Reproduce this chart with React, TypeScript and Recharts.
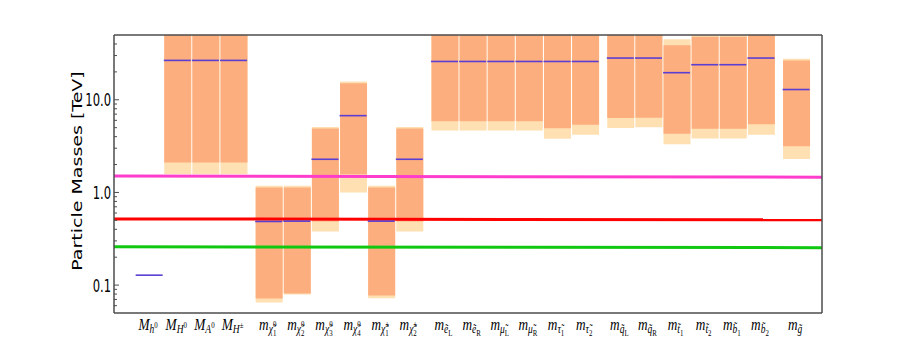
import { Bar, ComposedChart, ReferenceLine, Scatter, XAxis, YAxis } from "recharts"

// particle slots, grouped (Higgs | EW-inos | sleptons | squarks | gluino)
const particles = [
    "h0", "H0", "A0", "Hpm",
    "N1", "N2", "N3", "N4", "C1", "C2",
    "eL", "eR", "muL", "muR", "tau1", "tau2",
    "qL", "qR", "t1", "t2", "b1", "b2",
    "gluino",
]
const groupIndex = [0, 0, 0, 0, 1, 1, 1, 1, 1, 1, 2, 2, 2, 2, 2, 2, 3, 3, 3, 3, 3, 3, 4]

// label pieces: base letter, subscript, sub-index, superscript
const labelBase = ["M", "M", "M", "M", "m", "m", "m", "m", "m", "m", "m", "m", "m", "m", "m", "m", "m", "m", "m", "m", "m", "m", "m"]
const labelSub = ["h", "H", "A", "H", "χ̃", "χ̃", "χ̃", "χ̃", "χ̃", "χ̃", "ẽ", "ẽ", "μ̃", "μ̃", "τ̃", "τ̃", "q̃", "q̃", "t̃", "t̃", "b̃", "b̃", "g̃"]
const labelIdx = ["", "", "", "", "1", "2", "3", "4", "1", "2", "L", "R", "L", "R", "1", "2", "L", "R", "1", "2", "1", "2", ""]
const labelSup = ["0", "0", "0", "±", "0", "0", "0", "0", "±", "±", "", "", "", "", "", "", "", "", "", "", "", "", ""]

// masses in TeV
const central = [0.128, 26.6, 26.6, 26.6, 0.486, 0.49, 2.28, 6.74, 0.49, 2.28, 25.9, 25.9, 25.9, 25.9, 25.9, 25.9, 28.2, 28.2, 19.6, 23.9, 23.9, 28.2, 12.9]
const innerLow = [null, 2.1, 2.1, 2.1, 0.0715, 0.0813, 0.486, 1.57, 0.0773, 0.486, 5.86, 5.86, 5.86, 5.86, 4.93, 5.36, 6.37, 6.4, 4.31, 4.87, 4.87, 5.45, 3.15]
const innerHigh = [null, 55, 55, 55, 1.13, 1.13, 4.89, 15.1, 1.13, 4.89, 55, 55, 55, 55, 55, 55, 55, 55, 38.7, 48, 48, 55, 26.5]
const outerLow = [null, 1.57, 1.57, 1.57, 0.065, 0.079, 0.379, 1.0, 0.072, 0.379, 4.66, 4.66, 4.66, 4.66, 3.8, 4.2, 4.97, 5.06, 3.32, 3.81, 3.81, 4.2, 2.3]
const outerHigh = [null, 60, 60, 60, 1.18, 1.18, 5.09, 15.7, 1.18, 5.09, 60, 60, 60, 60, 60, 60, 60, 60, 45, 52, 52, 60, 27.7]

// near-flat reference lines (value at left edge, value at right edge)
const magentaLine = [1.506, 1.46]
const redLine = [0.518, 0.506]
const greenLine = [0.259, 0.2535]

const yMajorTicks = [0.1, 1, 10]
const yMinorTicks = [0.06, 0.07, 0.08, 0.09, 0.2, 0.3, 0.4, 0.5, 0.6, 0.7, 0.8, 0.9, 2, 3, 4, 5, 6, 7, 8, 9, 20, 30, 40]

const GROUP_GAP = 0.25
const xDomain = [-1.25, 23.92]
const yDomain = [0.05, 50]
const FRAME = "#4d4d4d"

const xPos = particles.map((_, i) => i + groupIndex[i] * GROUP_GAP)
const edgeTicks = Array.from(new Set(xPos.flatMap((x) => [x - 0.5, x + 0.5])))

const data = particles.map((name, i) => ({
    name,
    x: xPos[i],
    inner: innerLow[i] == null ? null : [innerLow[i], innerHigh[i]],
    outer: outerLow[i] == null ? null : [outerLow[i], outerHigh[i]],
    central: central[i],
}))

const XLabel = ({ x, y, payload }: any) => {
    const i = xPos.indexOf(payload.value)
    if (i < 0) return null
    const hasIdx = labelIdx[i] !== ""
    return (
        <g transform={`translate(${x - 1},${y + 17}) scale(0.76,1)`}>
            <text textAnchor="middle" fontFamily="'Liberation Serif', serif" fontStyle="italic" fontSize={17.5} fill="#000">
                <tspan>{labelBase[i]}</tspan>
                <tspan fontSize={12.5} dy={3}>{labelSub[i]}</tspan>
                {hasIdx && (
                    <tspan fontSize={9} fontStyle="normal" dy={2.5}>{labelIdx[i]}</tspan>
                )}
                {labelSup[i] !== "" && (
                    <tspan fontSize={9} fontStyle="normal" dx={hasIdx ? -4.5 : 0} dy={hasIdx ? -9 : -5.5}>
                        {labelSup[i]}
                    </tspan>
                )}
            </text>
        </g>
    )
}

const YTick = ({ x, y, payload }: any) => {
    const major = yMajorTicks.includes(payload.value)
    return (
        <g>
            <line x1={x} x2={x + (major ? 5 : 3)} y1={y} y2={y} stroke={FRAME} strokeWidth={1} />
            {major && (
                <g transform={`translate(${x - 3},${y}) scale(0.66,1)`}>
                    <text textAnchor="end" dominantBaseline="central" fontFamily="'DejaVu Sans', sans-serif" fontSize={17.5} fill="#000">
                        {payload.value.toFixed(1)}
                    </text>
                </g>
            )}
        </g>
    )
}

const YLabel = ({ viewBox }: any) => {
    const cx = viewBox.x + 77
    const cy = viewBox.y + viewBox.height / 2 - 3
    return (
        <g transform={`translate(${cx},${cy}) scale(0.72,1) rotate(-90)`}>
            <text textAnchor="middle" dominantBaseline="central" fontFamily="'DejaVu Sans', sans-serif" fontSize={19} fill="#000">
                Particle Masses [TeV]
            </text>
        </g>
    )
}

const CentralMark = ({ cx, cy }: any) => (
    <line x1={cx - 13.5} x2={cx + 13.5} y1={cy} y2={cy} stroke="#5a3fd2" strokeWidth={1.6} />
)

const flatLine = (vals: number[]) => [
    { x: xDomain[0], y: vals[0] },
    { x: xDomain[1], y: vals[1] },
]

const ParticleMassChart = () => {
    return (
        <div style={{ position: "absolute", left: 0, top: 0, width: 913, height: 349, background: "#fff" }}>
            <ComposedChart
                width={913}
                height={349}
                data={data}
                margin={{ top: 35, right: 91, bottom: 6, left: 0 }}
            >
                <XAxis
                    xAxisId="main"
                    type="number"
                    dataKey="x"
                    domain={xDomain}
                    allowDataOverflow
                    ticks={xPos}
                    interval={0}
                    tickLine={false}
                    tickSize={0}
                    tickMargin={0}
                    tick={<XLabel />}
                    height={30}
                    axisLine={{ stroke: FRAME, strokeWidth: 1.5 }}
                />
                <XAxis xAxisId="outer" type="number" dataKey="x" domain={xDomain} allowDataOverflow hide />
                <XAxis
                    xAxisId="bottomTicks"
                    type="number"
                    dataKey="x"
                    orientation="bottom"
                    mirror
                    domain={xDomain}
                    allowDataOverflow
                    ticks={edgeTicks}
                    interval={0}
                    tick={false}
                    tickSize={4}
                    axisLine={false}
                    tickLine={{ stroke: FRAME }}
                    height={4}
                />
                <XAxis
                    xAxisId="top"
                    type="number"
                    dataKey="x"
                    orientation="top"
                    mirror
                    domain={xDomain}
                    allowDataOverflow
                    ticks={edgeTicks}
                    interval={0}
                    tick={false}
                    tickSize={4}
                    axisLine={{ stroke: FRAME, strokeWidth: 1.5 }}
                    tickLine={{ stroke: FRAME }}
                    height={4}
                />
                <YAxis
                    yAxisId="mass"
                    scale="log"
                    type="number"
                    domain={yDomain}
                    allowDataOverflow
                    ticks={[...yMajorTicks, ...yMinorTicks]}
                    interval={0}
                    width={114}
                    tickLine={false}
                    tickSize={0}
                    tickMargin={0}
                    tick={<YTick />}
                    axisLine={{ stroke: FRAME, strokeWidth: 1.5 }}
                    label={{ content: <YLabel /> }}
                />
                <YAxis
                    yAxisId="right"
                    orientation="right"
                    mirror
                    scale="log"
                    type="number"
                    domain={yDomain}
                    allowDataOverflow
                    ticks={[...yMajorTicks, ...yMinorTicks]}
                    interval={0}
                    tick={false}
                    tickSize={3}
                    width={4}
                    axisLine={{ stroke: FRAME, strokeWidth: 1.5 }}
                    tickLine={{ stroke: FRAME }}
                />
                <Bar xAxisId="outer" yAxisId="mass" dataKey="outer" fill="#fee0b3" barSize={27} isAnimationActive={false} />
                <Bar xAxisId="main" yAxisId="mass" dataKey="inner" fill="#fdae7e" barSize={27} isAnimationActive={false} />
                <Scatter xAxisId="main" yAxisId="mass" dataKey="central" shape={<CentralMark />} isAnimationActive={false} />
                <ReferenceLine xAxisId="main" yAxisId="mass" segment={flatLine(magentaLine)} stroke="#ff3dcc" strokeWidth={3} ifOverflow="visible" />
                <ReferenceLine xAxisId="main" yAxisId="mass" segment={flatLine(redLine)} stroke="#ff0000" strokeWidth={3} ifOverflow="visible" />
                <ReferenceLine xAxisId="main" yAxisId="mass" segment={flatLine(greenLine)} stroke="#11c811" strokeWidth={3} ifOverflow="visible" />
            </ComposedChart>
        </div>
    )
}

export default function App() {
    return <ParticleMassChart />
}
